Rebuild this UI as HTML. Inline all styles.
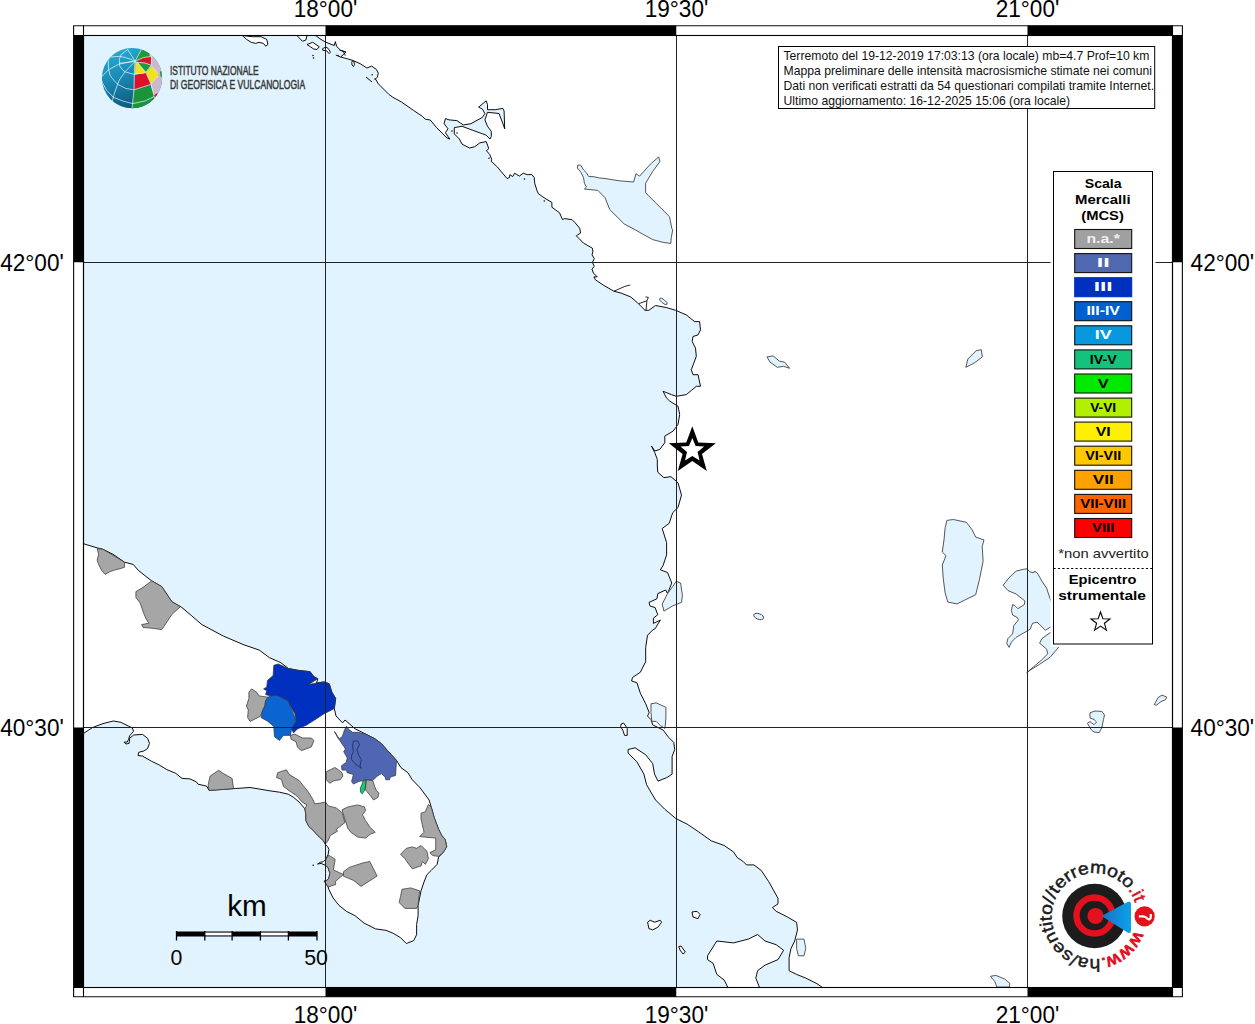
<!DOCTYPE html>
<html><head><meta charset="utf-8"><style>
html,body{margin:0;padding:0;background:#fff;width:1255px;height:1024px;overflow:hidden}
svg{display:block}
text{font-family:"Liberation Sans",sans-serif}
</style></head><body>
<svg width="1255" height="1024" viewBox="0 0 1255 1024">
<defs>
<clipPath id="mapclip"><rect x="83.5" y="35.5" width="1089" height="952"/></clipPath>
<clipPath id="titleclip"><rect x="779" y="47" width="375.7" height="61"/></clipPath>
<linearGradient id="gblue" x1="0.2" y1="0.05" x2="0.55" y2="1"><stop offset="0" stop-color="#27aacf"/><stop offset="0.45" stop-color="#1a88b4"/><stop offset="1" stop-color="#0a5578"/></linearGradient>
<linearGradient id="gtri" x1="0" y1="0" x2="1" y2="0"><stop offset="0" stop-color="#1b6fc4"/><stop offset="1" stop-color="#0aa2ea"/></linearGradient>
<clipPath id="globeclip"><circle cx="132" cy="78.1" r="30.1"/></clipPath>
</defs>
<rect x="0" y="0" width="1255" height="1024" fill="#fff"/>
<g clip-path="url(#mapclip)">
<rect x="83" y="35" width="1090" height="953" fill="#e0f3ff"/>

<path d="M315.9,35.6 L320.0,38.8 L325.7,42.2 L334.3,45.5 L335.3,41.7 L336.7,46.5 L340.6,50.3 L345.8,52.2 L343.9,54.1 L340.6,57.0 L347.7,58.9 L352.5,60.3 L360.2,63.7 L366.9,68.0 L371.6,66.1 L376.4,69.4 L378.3,73.2 L377.4,77.1 L375.5,79.0 L378.3,83.8 L388.8,94.3 L392.7,97.2 L401.3,101.9 L413.7,110.5 L422.3,116.3 L425.2,119.1 L430.4,120.1 L436.5,127.6 L442.9,133.9 L446.7,137.8 L449.9,139.0 L448.0,136.5 L445.4,132.7 L448.0,128.8 L444.1,123.7 L445.4,118.6 L449.2,119.9 L456.9,120.6 L463.3,125.0 L470.9,123.7 L482.4,117.4 L484.9,113.5 L482.4,109.1 L478.6,107.2 L486.2,100.8 L487.5,104.6 L487.5,109.7 L495.1,109.7 L502.8,108.4 L504.1,111.0 L504.7,128.8 L503.4,125.0 L499.0,113.5 L487.5,112.3 L484.9,119.9 L487.5,126.3 L491.3,131.4 L491.3,136.5 L490.0,139.0 L486.2,135.2 L481.1,133.3 L472.2,130.1 L462.0,126.3 L454.3,127.6 L454.3,133.9 L459.4,139.0 L462.0,144.1 L469.6,148.0 L474.7,146.7 L479.8,142.9 L486.2,141.6 L487.5,145.0 L488.8,148.8 L486.4,150.7 L489.8,154.6 L491.7,159.3 L491.2,161.3 L497.4,167.0 L507.0,178.5 L509.4,177.5 L509.9,174.6 L512.7,176.6 L514.6,173.2 L519.4,176.1 L523.2,173.2 L527.1,174.6 L531.9,174.6 L534.2,177.5 L534.7,183.2 L537.1,190.9 L538.5,193.8 L545.2,198.5 L551.9,202.4 L551.9,207.2 L559.6,212.9 L562.5,219.6 L564.4,218.6 L572.0,219.6 L574.9,222.5 L579.7,228.2 L580.6,233.0 L576.3,235.8 L583.4,243.0 L592.4,248.2 L592.9,252.0 L592.0,254.9 L594.3,258.7 L592.4,262.5 L594.3,266.3 L592.0,269.2 L593.4,273.0 L597.2,276.9 L593.9,276.9 L595.3,279.7 L603.9,285.5 L613.9,291.2 L621.1,293.1 L630.7,296.9 L637.4,302.7 L641.2,306.5 L645.0,310.3 L648.8,310.3 L655.5,305.5 L666.1,307.5 L675.6,310.3 L686.3,314.9 L694.6,321.6 L699.6,321.6 L700.5,329.9 L698.0,334.9 L693.0,336.5 L692.2,341.5 L695.5,348.1 L696.3,356.4 L693.8,363.1 L691.3,369.7 L693.0,374.7 L698.0,374.7 L700.5,386.3 L696.3,386.3 L691.3,390.5 L686.3,394.6 L676.4,396.3 L671.4,394.6 L663.1,391.3 L666.4,397.9 L669.8,401.2 L678.0,406.2 L679.7,414.5 L678.0,424.5 L673.1,431.1 L664.8,436.1 L664.8,442.7 L659.8,449.4 L654.8,451.0 L651.5,446.1 L654.8,452.7 L657.3,459.3 L657.3,466.0 L657.8,472.3 L663.9,477.6 L671.0,476.7 L678.0,482.8 L681.5,495.1 L678.0,507.5 L672.7,512.7 L669.2,523.3 L662.2,528.5 L666.6,542.6 L666.6,554.9 L663.1,565.4 L660.4,569.8 L667.5,572.5 L671.8,583.0 L667.5,593.6 L665.7,590.0 L657.8,593.6 L656.9,598.8 L649.0,602.4 L649.9,605.9 L655.1,607.6 L657.8,614.7 L653.4,618.2 L653.4,623.4 L660.4,620.0 L655.1,628.7 L652.7,630.0 L647.5,635.3 L645.7,647.6 L645.7,661.6 L640.4,672.2 L632.5,677.5 L631.6,681.0 L636.9,682.7 L640.4,693.3 L645.7,703.8 L649.2,712.6 L647.5,716.1 L651.0,719.6 L652.7,724.9 L658.0,727.5 L663.3,730.2 L668.5,737.2 L673.8,742.5 L674.7,749.5 L672.1,756.5 L672.1,774.1 L666.8,777.6 L658.0,781.1 L654.5,774.1 L652.7,763.6 L645.7,754.8 L635.1,747.8 L628.1,749.5 L628.1,753.0 L636.9,761.8 L643.9,774.1 L646.6,784.7 L652.7,795.2 L655.6,800.0 L664.8,809.3 L676.0,818.6 L687.1,824.1 L698.2,831.5 L711.2,840.8 L724.2,845.5 L733.5,851.9 L737.2,857.5 L742.8,861.2 L746.5,864.9 L753.9,864.9 L761.3,870.5 L768.7,881.6 L778.0,898.3 L778.0,903.9 L772.4,907.6 L776.2,911.3 L787.3,916.9 L796.6,922.4 L797.5,929.9 L794.7,941.0 L791.0,948.4 L789.1,957.7 L789.1,970.7 L796.6,974.4 L805.8,978.1 L817.0,983.7 L822.5,987.5 L1173.0,987.5 L1173.0,35.0 L315.9,35.0Z" fill="#fff" stroke="#000" stroke-width="0.95" stroke-linejoin="round"/>
<path d="M83.0,543.6 L97.2,547.9 L103.0,549.3 L113.0,554.3 L124.5,562.2 L133.1,564.4 L138.8,570.8 L151.7,580.9 L161.8,586.6 L171.8,601.7 L181.8,607.4 L191.9,616.0 L201.9,624.6 L223.4,636.1 L244.1,644.9 L259.1,650.0 L269.3,657.6 L278.2,661.5 L280.8,662.7 L288.4,668.5 L298.6,670.4 L310.1,671.7 L313.9,676.8 L317.8,678.7 L316.5,683.1 L324.1,681.9 L329.2,683.8 L331.8,692.1 L335.6,698.4 L334.3,708.6 L336.0,716.0 L342.6,722.9 L345.0,720.0 L355.1,728.8 L365.7,734.1 L374.5,738.5 L381.5,743.7 L387.7,750.8 L396.5,760.4 L400.8,767.5 L407.9,772.7 L412.3,779.8 L420.0,787.7 L429.1,800.0 L431.3,807.3 L434.2,817.6 L438.6,829.3 L441.5,835.1 L445.2,839.5 L446.7,846.9 L443.0,852.7 L438.6,857.1 L437.1,864.4 L431.3,870.3 L426.9,874.7 L424.0,882.0 L421.0,890.8 L418.1,905.4 L418.1,915.7 L416.6,924.5 L416.6,934.7 L413.7,940.6 L406.4,943.5 L400.5,937.6 L393.2,933.3 L385.9,930.3 L375.6,928.9 L363.9,923.0 L355.1,915.7 L346.4,911.3 L339.0,905.4 L333.2,898.1 L328.8,889.3 L328.1,886.9 L325.8,883.3 L324.0,881.0 L325.8,881.0 L328.7,878.7 L329.9,873.4 L328.1,867.5 L325.2,865.2 L321.1,863.4 L317.6,864.0 L320.5,862.2 L323.4,861.7 L325.8,859.3 L328.1,854.6 L329.0,849.3 L327.5,846.4 L325.2,844.1 L323.4,840.6 L317.6,835.3 L312.9,830.0 L308.8,826.4 L305.9,820.5 L305.9,814.7 L304.9,808.8 L299.1,802.0 L293.2,797.1 L288.3,794.2 L279.5,792.2 L269.8,790.8 L250.0,787.5 L235.4,788.5 L223.5,789.4 L209.1,790.4 L206.7,786.1 L198.1,784.2 L196.2,781.8 L190.0,778.9 L182.0,778.4 L175.7,773.3 L166.7,769.5 L159.1,764.9 L151.4,761.2 L142.5,756.1 L138.0,755.5 L138.7,752.3 L143.8,751.0 L147.6,748.5 L149.5,743.4 L147.6,738.3 L142.5,734.4 L133.6,735.0 L129.7,738.3 L129.1,743.4 L125.9,744.0 L124.0,742.1 L127.2,742.1 L128.5,739.5 L129.7,735.7 L133.6,731.3 L132.3,728.0 L128.5,726.1 L120.8,722.3 L113.2,721.0 L103.0,723.6 L92.8,727.4 L83.8,733.2 L83.0,734.0Z" fill="#fff" stroke="#000" stroke-width="0.95" stroke-linejoin="round"/>
<path d="M242.3,35.5 L252.3,36.7 L261.2,36.7 L266.8,39.5 L267.9,44.5 L265.7,46.2 L263.5,43.4 L259.0,42.3 L255.7,43.4 L251.2,42.3 L246.7,39.5Z" fill="#fff" stroke="#000" stroke-width="0.95" stroke-linejoin="round"/>
<path d="M296.9,35.5 L307.0,35.5 L305.9,40.0 L302.5,41.2Z" fill="#fff" stroke="#000" stroke-width="0.95" stroke-linejoin="round"/>
<path d="M307.0,44.5 L312.6,42.3 L319.2,46.7 L317.0,49.5 L313.7,49.0 L310.3,46.7Z" fill="#fff" stroke="#000" stroke-width="0.95" stroke-linejoin="round"/>
<path d="M322.4,48.9 L325.7,47.0 L328.1,48.4 L330.5,52.2 L329.1,53.6 L326.7,50.8 L322.9,50.3Z" fill="#fff" stroke="#000" stroke-width="0.95" stroke-linejoin="round"/>
<path d="M352.2,61.0 L353.8,61.2 L354.5,64.5 L353.5,66.4 L352.0,65.0 L351.8,62.5Z" fill="#fff" stroke="#000" stroke-width="0.95" stroke-linejoin="round"/>
<path d="M647.6,922.2 L650.2,920.3 L654.6,922.2 L660.3,920.3 L661.6,922.2 L657.8,927.3 L652.7,929.8 L648.9,928.6Z" fill="#fff" stroke="#000" stroke-width="0.95" stroke-linejoin="round"/>
<path d="M621.1,724.0 L623.7,723.1 L627.2,728.4 L627.2,735.4 L624.6,735.4 L622.8,730.2 L620.7,726.7Z" fill="#fff" stroke="#000" stroke-width="0.95" stroke-linejoin="round"/>
<path d="M692.0,912.0 L697.0,911.3 L700.1,914.5 L698.0,918.7 L693.0,917.0Z" fill="#fff" stroke="#000" stroke-width="0.95" stroke-linejoin="round"/>
<path d="M678.8,946.6 L681.0,946.0 L685.3,952.0 L683.0,954.0 L680.0,950.0Z" fill="#fff" stroke="#000" stroke-width="0.95" stroke-linejoin="round"/>
<path d="M707.5,955.8 L716.8,941.0 L733.5,942.9 L748.3,939.1 L757.6,934.5 L765.0,941.0 L776.2,944.7 L783.6,950.3 L778.0,959.6 L765.0,965.1 L757.6,970.7 L755.8,978.1 L759.5,987.5 L727.9,987.5 L724.2,980.0 L716.8,974.4 L713.1,963.3 L707.5,959.6Z" fill="#fff" stroke="#000" stroke-width="0.95" stroke-linejoin="round"/>
<path d="M577.8,165.1 L580.6,165.1 L583.5,169.9 L586.4,172.7 L588.7,176.6 L593.0,176.6 L599.7,178.0 L605.0,178.5 L619.3,180.8 L633.6,182.0 L636.0,173.7 L639.6,176.1 L650.4,164.1 L658.7,156.9 L659.9,161.7 L652.8,171.3 L645.6,183.2 L645.6,192.8 L655.2,202.4 L662.3,209.5 L669.5,216.7 L671.9,228.7 L672.7,230.0 L671.3,237.6 L670.8,243.4 L663.2,242.4 L652.7,239.6 L642.2,233.8 L635.5,230.0 L624.1,223.9 L609.7,209.5 L605.0,197.6 L597.8,190.4 L584.4,189.0 L586.4,187.1 L584.4,183.2 L583.5,177.5 L580.6,171.8 L577.3,168.0Z" fill="#e0f3ff" stroke="#444" stroke-width="0.9" stroke-linejoin="round"/>
<path d="M946.9,520.4 L953.4,519.5 L966.4,522.3 L972.0,529.7 L975.7,537.1 L984.0,539.9 L982.2,546.4 L983.1,561.3 L979.4,579.8 L975.7,594.7 L964.5,600.2 L957.1,603.9 L947.8,602.1 L945.1,592.8 L943.2,578.0 L942.3,565.0 L946.0,555.7 L942.3,552.0 L944.1,539.0 L945.1,527.8Z" fill="#e0f3ff" stroke="#444" stroke-width="0.9" stroke-linejoin="round"/>
<path d="M1003.2,585.2 L1009.1,577.6 L1016.1,571.1 L1023.1,569.4 L1027.2,568.8 L1029.6,571.7 L1033.7,572.9 L1034.3,571.1 L1037.2,572.9 L1041.9,581.1 L1046.6,588.1 L1050.1,598.7 L1053.0,605.0 L1053.0,626.0 L1050.7,626.8 L1045.4,630.3 L1041.9,626.8 L1037.2,622.1 L1032.5,623.3 L1030.2,629.2 L1023.1,633.3 L1016.1,637.4 L1011.4,642.1 L1009.1,647.4 L1006.7,643.2 L1007.9,638.6 L1012.6,633.9 L1013.8,625.7 L1018.4,619.8 L1017.3,617.5 L1012.6,615.1 L1011.4,610.4 L1012.6,604.6 L1014.9,605.7 L1017.9,608.7 L1024.3,604.6 L1024.9,601.0 L1016.1,594.0 L1007.9,590.5Z" fill="#e0f3ff" stroke="#444" stroke-width="0.9" stroke-linejoin="round"/>
<path d="M1050.1,632.7 L1041.9,638.6 L1039.6,643.2 L1046.6,649.1 L1047.8,653.8 L1041.9,659.7 L1033.7,666.7 L1026.7,672.6 L1030.2,670.2 L1039.6,664.3 L1050.1,657.3 L1056.0,650.3 L1058.9,646.8 L1055.0,642.0 L1053.0,632.0Z" fill="#e0f3ff" stroke="#444" stroke-width="0.9" stroke-linejoin="round"/>
<path d="M651.0,703.8 L656.2,702.9 L665.9,707.3 L665.9,717.9 L665.0,728.4 L660.6,725.8 L656.2,721.4 L651.8,721.4 L651.0,712.6Z" fill="#e0f3ff" stroke="#444" stroke-width="0.9" stroke-linejoin="round"/>
<path d="M676.2,581.3 L680.6,583.0 L682.4,595.3 L681.5,602.4 L672.7,605.9 L663.9,611.1 L662.2,604.1 L667.5,593.6 L672.7,586.5Z" fill="#e0f3ff" stroke="#444" stroke-width="0.9" stroke-linejoin="round"/>
<path d="M796.6,939.1 L804.0,939.1 L805.8,948.4 L804.0,955.8 L798.4,955.8 L796.6,948.4Z" fill="#e0f3ff" stroke="#444" stroke-width="0.9" stroke-linejoin="round"/>
<path d="M766.9,356.9 L773.1,355.9 L779.4,361.1 L784.5,362.1 L789.7,368.3 L783.5,366.3 L777.3,367.3 L770.0,362.1Z" fill="#e0f3ff" stroke="#444" stroke-width="0.9" stroke-linejoin="round"/>
<path d="M965.8,367.3 L967.9,359.0 L976.2,350.7 L981.3,349.7 L982.4,356.9 L974.1,363.1Z" fill="#e0f3ff" stroke="#444" stroke-width="0.9" stroke-linejoin="round"/>
<path d="M1090.0,712.8 L1095.0,711.0 L1101.9,711.4 L1104.5,715.0 L1103.5,719.4 L1101.9,727.3 L1099.3,732.6 L1094.0,732.0 L1091.3,729.9 L1087.4,723.3 L1090.0,721.5 L1094.0,724.7 L1096.6,722.0 L1094.0,719.5 L1090.0,718.0Z" fill="#e0f3ff" stroke="#444" stroke-width="0.9" stroke-linejoin="round"/>
<path d="M1154.2,704.7 L1158.3,697.4 L1162.0,695.1 L1166.6,697.0 L1165.7,699.7 L1161.1,701.5 L1156.5,705.2Z" fill="#e0f3ff" stroke="#444" stroke-width="0.9" stroke-linejoin="round"/>
<path d="M990.5,976.3 L995.8,975.4 L1004.5,978.9 L1009.8,983.3 L1009.5,987.0 L996.7,987.0 L994.9,981.6Z" fill="#e0f3ff" stroke="#444" stroke-width="0.9" stroke-linejoin="round"/>
<circle cx="524.5" cy="179" r="0.8" fill="#111"/>
<circle cx="544.3" cy="201" r="0.8" fill="#111"/>
<circle cx="489" cy="158.3" r="0.8" fill="#111"/>
<circle cx="313" cy="55.5" r="0.8" fill="#111"/>
<circle cx="313.5" cy="58" r="0.8" fill="#111"/>
<circle cx="452" cy="131" r="0.8" fill="#111"/>
<circle cx="457" cy="133" r="0.8" fill="#111"/>
<circle cx="372.1" cy="74.7" r="0.8" fill="#111"/>
<circle cx="375" cy="79" r="0.8" fill="#111"/>
<circle cx="338" cy="55.5" r="0.8" fill="#111"/>
<circle cx="313.2" cy="865.2" r="0.8" fill="#111"/>
<path d="M366,77 L372,82 M339.5,50 L346,52 M343,50.8 L345.3,55.6 M335.8,55 L340.6,57" fill="none" stroke="#111" stroke-width="1"/>
<path d="M613.9,291.2 L624.9,286.4 L630.2,285" fill="none" stroke="#111" stroke-width="0.9"/>
<path d="M638.8,303.6 L646.9,300.8 L646,310.3 M646.9,300.8 L648.4,297.4 L645.5,296.9" fill="none" stroke="#111" stroke-width="0.9"/>
<ellipse cx="663.4" cy="301.4" rx="4.6" ry="1.7" transform="rotate(38 663.4 301.4)" fill="#e0f3ff" stroke="#444" stroke-width="0.9" stroke-linejoin="round"/>
<ellipse cx="758.7" cy="616.5" rx="5.2" ry="2.8" transform="rotate(20 758.7 616.5)" fill="#e0f3ff" stroke="#444" stroke-width="0.9" stroke-linejoin="round"/>
<path d="M97.2,548.6 L103.0,549.3 L124.5,562.2 L124.5,567.3 L120.2,568.7 L114.4,570.1 L110.1,571.6 L105.1,574.4 L101.5,570.1 L98.6,564.4 L97.2,560.1 L98.6,554.3Z" fill="#a6a6a6" stroke="#383838" stroke-width="0.75" stroke-linejoin="round"/>
<path d="M151.7,580.9 L161.8,586.6 L171.8,601.7 L180.4,606.7 L171.8,614.6 L166.1,623.2 L161.8,629.6 L151.7,628.2 L143.1,627.5 L141.7,624.6 L148.8,623.2 L146.0,618.9 L143.1,611.7 L140.2,603.1 L135.9,597.4 L135.9,591.6 L143.1,587.3Z" fill="#a6a6a6" stroke="#383838" stroke-width="0.75" stroke-linejoin="round"/>
<path d="M210.1,776.0 L218.7,770.3 L223.5,773.6 L232.1,778.4 L233.5,788.5 L223.5,789.4 L209.1,790.4 L208.2,784.6Z" fill="#a6a6a6" stroke="#383838" stroke-width="0.75" stroke-linejoin="round"/>
<path d="M251.5,688.9 L256.6,692.1 L259.1,695.9 L268.0,697.2 L265.5,701.0 L264.9,706.1 L262.9,709.9 L260.4,716.3 L250.2,721.4 L247.6,717.6 L248.3,709.9 L246.4,706.1 L248.9,698.4 L248.9,692.1Z" fill="#a6a6a6" stroke="#383838" stroke-width="0.75" stroke-linejoin="round"/>
<path d="M290.4,735.4 L294.8,734.1 L302.5,738.0 L311.4,738.0 L313.9,740.5 L311.4,746.9 L301.2,750.7 L297.4,746.9 L296.1,741.8 L291.0,739.2Z" fill="#a6a6a6" stroke="#383838" stroke-width="0.75" stroke-linejoin="round"/>
<path d="M270.6,695.9 L277.0,694.6 L283.3,698.4 L288.4,701.0 L289.7,704.8 L293.5,713.7 L296.1,721.4 L291.6,729.0 L290.4,735.4 L283.3,735.4 L279.5,740.5 L274.4,736.7 L273.8,726.5 L268.0,721.4 L261.0,717.6 L262.9,709.9 L264.9,706.1 L265.5,701.0 L268.0,697.2Z" fill="#0a64d2" stroke="#383838" stroke-width="0.75" stroke-linejoin="round"/>
<path d="M273.8,665.3 L278.2,664.0 L288.4,668.5 L298.6,670.4 L310.1,671.7 L313.9,676.8 L317.8,678.7 L308.8,684.4 L316.5,683.1 L324.1,681.9 L329.2,683.8 L331.8,692.1 L335.6,698.4 L334.3,708.6 L329.2,711.2 L324.1,713.7 L316.5,718.8 L306.3,725.2 L297.4,729.0 L293.5,732.9 L291.6,729.0 L296.1,721.4 L294.8,713.7 L289.7,704.8 L288.4,701.0 L283.3,698.4 L277.0,695.3 L270.6,695.9 L265.5,694.6 L266.8,690.8 L263.6,688.9 L266.8,687.0 L267.4,680.6 L273.1,675.5Z" fill="#0030c0" stroke="#383838" stroke-width="0.75" stroke-linejoin="round"/>
<path d="M334.5,731.4 L339.3,738.9 L342.4,736.3 L344.6,729.7 L346.4,726.2 L349.0,729.7 L352.5,732.3 L357.8,732.3 L365.7,734.1 L374.5,738.5 L381.5,743.7 L387.7,750.8 L396.5,760.4 L396.0,768.3 L395.6,775.4 L390.3,777.1 L389.4,779.8 L385.9,779.8 L385.0,777.1 L381.5,773.6 L377.1,776.2 L372.7,780.6 L366.6,779.8 L363.1,780.6 L358.7,781.5 L353.4,784.1 L351.6,781.5 L353.4,774.5 L347.2,772.7 L346.4,770.1 L342.0,770.1 L341.5,765.7 L346.4,762.2 L347.2,757.8 L343.7,751.6 L345.5,749.0 L340.2,741.1 L337.6,737.6Z" fill="#4f67b3" stroke="#383838" stroke-width="0.75" stroke-linejoin="round"/>
<path d="M363.1,780.6 L365.7,779.8 L365.7,785.0 L364.8,790.3 L362.2,793.8 L360.4,792.1 L360.4,787.7 L362.2,784.1Z" fill="#10cc74" stroke="#383838" stroke-width="0.75" stroke-linejoin="round"/>
<path d="M366.6,779.8 L372.7,780.6 L374.5,785.9 L376.2,790.3 L378.9,792.9 L378.0,797.3 L373.6,800.0 L371.0,796.5 L367.5,792.1 L365.7,790.3 L365.7,785.0Z" fill="#a6a6a6" stroke="#383838" stroke-width="0.75" stroke-linejoin="round"/>
<path d="M326.2,771.8 L334.9,767.5 L337.6,769.2 L342.0,772.7 L342.8,776.2 L340.2,779.8 L334.1,780.6 L329.7,783.3 L326.2,779.8Z" fill="#a6a6a6" stroke="#383838" stroke-width="0.75" stroke-linejoin="round"/>
<path d="M277.6,772.7 L286.4,769.8 L289.3,774.6 L299.1,780.5 L303.0,785.4 L307.9,791.3 L312.7,799.1 L314.7,803.9 L320.5,803.0 L325.4,802.0 L328.4,805.9 L336.2,807.9 L342.0,812.7 L345.0,822.5 L340.1,826.4 L336.2,829.3 L337.5,831.2 L330.5,835.3 L327.5,841.7 L325.2,844.1 L323.4,840.6 L317.6,835.3 L312.9,830.0 L308.8,826.4 L305.9,820.5 L305.9,814.7 L304.9,808.8 L306.9,804.9 L302.0,802.0 L297.1,796.1 L291.3,792.2 L283.4,786.4 L281.5,779.5 L276.6,777.6Z" fill="#a6a6a6" stroke="#383838" stroke-width="0.75" stroke-linejoin="round"/>
<path d="M342.0,809.8 L347.9,806.9 L357.7,804.9 L364.5,806.9 L365.5,810.8 L362.5,814.7 L365.5,820.5 L370.3,827.4 L375.2,832.3 L370.3,834.2 L365.5,838.1 L357.7,837.1 L350.8,832.3 L347.9,828.4 L345.9,822.5Z" fill="#a6a6a6" stroke="#383838" stroke-width="0.75" stroke-linejoin="round"/>
<path d="M428.4,804.4 L431.3,807.3 L434.2,817.6 L438.6,829.3 L441.5,835.1 L445.2,839.5 L446.7,846.9 L443.0,852.7 L438.6,856.4 L432.8,855.6 L429.8,852.7 L435.7,849.8 L435.7,838.1 L419.6,836.6 L424.0,832.2 L421.0,819.0 L421.0,813.2 L425.4,811.7Z" fill="#a6a6a6" stroke="#383838" stroke-width="0.75" stroke-linejoin="round"/>
<path d="M400.5,854.2 L406.4,848.3 L412.3,846.9 L416.6,848.3 L421.0,845.4 L426.9,851.3 L428.4,858.6 L425.4,864.4 L422.5,861.5 L421.0,865.9 L412.3,868.8 L407.9,863.0 L404.9,858.6Z" fill="#a6a6a6" stroke="#383838" stroke-width="0.75" stroke-linejoin="round"/>
<path d="M343.4,871.8 L349.3,867.4 L362.5,863.0 L369.8,861.5 L377.1,876.1 L361.0,886.4 L353.7,880.5 L343.4,876.1Z" fill="#a6a6a6" stroke="#383838" stroke-width="0.75" stroke-linejoin="round"/>
<path d="M325.8,859.3 L328.7,855.2 L335.2,859.3 L334.6,862.8 L333.4,869.9 L343.4,874.5 L335.2,881.6 L335.8,884.5 L328.1,886.9 L325.8,883.3 L324.0,881.0 L325.8,881.0 L328.7,878.7 L329.9,873.4 L328.1,867.5 L325.2,865.2Z" fill="#a6a6a6" stroke="#383838" stroke-width="0.75" stroke-linejoin="round"/>
<path d="M402.0,889.3 L410.8,887.9 L419.6,890.8 L418.1,905.4 L416.6,908.4 L404.9,908.4 L399.1,902.5 L400.5,896.6Z" fill="#a6a6a6" stroke="#383838" stroke-width="0.75" stroke-linejoin="round"/>
<path d="M353.4,741.1 L357.8,741.1 L359.5,744.6 L356.9,749.9 L358.7,755.1 L361.3,759.5 L360.0,765.7 L361.3,768.3 L355.1,763.9 L351.6,759.5 L351.6,755.1 L353.4,751.6 L352.5,746.4 L353.4,741.1" fill="none" stroke="#1a2a60" stroke-width="0.8"/>
<line x1="325.5" y1="35" x2="325.5" y2="988" stroke="#222" stroke-width="1"/>
<line x1="676.5" y1="35" x2="676.5" y2="988" stroke="#222" stroke-width="1"/>
<line x1="1027.5" y1="35" x2="1027.5" y2="988" stroke="#222" stroke-width="1"/>
<line x1="83" y1="262.5" x2="1173" y2="262.5" stroke="#222" stroke-width="1"/>
<line x1="83" y1="727.5" x2="1173" y2="727.5" stroke="#222" stroke-width="1"/>
</g>
<rect x="83.5" y="25.5" width="242.0" height="10.0" fill="#fff"/>
<rect x="325.5" y="25.5" width="351.0" height="10.0" fill="#000"/>
<rect x="676.5" y="25.5" width="351.0" height="10.0" fill="#fff"/>
<rect x="1027.5" y="25.5" width="145.0" height="10.0" fill="#000"/>
<rect x="83.5" y="987.5" width="242.0" height="9.5" fill="#fff"/>
<rect x="325.5" y="987.5" width="351.0" height="9.5" fill="#000"/>
<rect x="676.5" y="987.5" width="351.0" height="9.5" fill="#fff"/>
<rect x="1027.5" y="987.5" width="145.0" height="9.5" fill="#000"/>
<rect x="73.5" y="35.5" width="10.0" height="227.0" fill="#000"/>
<rect x="73.5" y="262.5" width="10.0" height="465.0" fill="#fff"/>
<rect x="73.5" y="727.5" width="10.0" height="260.0" fill="#000"/>
<rect x="1172.5" y="35.5" width="10.0" height="227.0" fill="#000"/>
<rect x="1172.5" y="262.5" width="10.0" height="465.0" fill="#fff"/>
<rect x="1172.5" y="727.5" width="10.0" height="260.0" fill="#000"/>
<rect x="73.6" y="25.7" width="1108.8" height="971.0" fill="none" stroke="#111" stroke-width="1.15" stroke-linejoin="round"/>
<rect x="83.5" y="35.5" width="1089" height="952" fill="none" stroke="#000" stroke-width="1.1"/>
<line x1="73.5" y1="35.5" x2="1182.5" y2="35.5" stroke="#000" stroke-width="1.1"/>
<line x1="73.5" y1="987.5" x2="1182.5" y2="987.5" stroke="#000" stroke-width="1.1"/>
<line x1="83.5" y1="25.5" x2="83.5" y2="997" stroke="#000" stroke-width="1.1"/>
<line x1="1172.5" y1="25.5" x2="1172.5" y2="997" stroke="#000" stroke-width="1.1"/>
<text x="293.7" y="16.9" font-size="23.5" fill="#000" textLength="63.6" lengthAdjust="spacingAndGlyphs">18°00'</text>
<text x="293.7" y="1023.4" font-size="23.5" fill="#000" textLength="63.6" lengthAdjust="spacingAndGlyphs">18°00'</text>
<text x="644.7" y="16.9" font-size="23.5" fill="#000" textLength="63.6" lengthAdjust="spacingAndGlyphs">19°30'</text>
<text x="644.7" y="1023.4" font-size="23.5" fill="#000" textLength="63.6" lengthAdjust="spacingAndGlyphs">19°30'</text>
<text x="995.7" y="16.9" font-size="23.5" fill="#000" textLength="63.6" lengthAdjust="spacingAndGlyphs">21°00'</text>
<text x="995.7" y="1023.4" font-size="23.5" fill="#000" textLength="63.6" lengthAdjust="spacingAndGlyphs">21°00'</text>
<text x="0.19999999999999574" y="270.9" font-size="23.5" fill="#000" textLength="63.6" lengthAdjust="spacingAndGlyphs">42°00'</text>
<text x="1190.6" y="270.9" font-size="23.5" fill="#000" textLength="63.6" lengthAdjust="spacingAndGlyphs">42°00'</text>
<text x="0.19999999999999574" y="735.9" font-size="23.5" fill="#000" textLength="63.6" lengthAdjust="spacingAndGlyphs">40°30'</text>
<text x="1190.6" y="735.9" font-size="23.5" fill="#000" textLength="63.6" lengthAdjust="spacingAndGlyphs">40°30'</text>
<path d="M692.3,426.2 L698.3,442.6 L715.8,443.3 L702.0,454.1 L706.8,470.9 L692.3,461.1 L677.8,470.9 L682.6,454.1 L668.8,443.3 L686.3,442.6Z" fill="#000"/>
<path d="M692.3,438.0 L695.6,445.9 L704.1,446.6 L697.6,452.1 L699.6,460.4 L692.3,456.0 L685.0,460.4 L687.0,452.1 L680.5,446.6 L689.0,445.9Z" fill="#fff"/>
<rect x="778.5" y="46.5" width="376.2" height="62" fill="#fff"/>
<g clip-path="url(#titleclip)" font-size="12.2" fill="#111">
<text x="783.5" y="59.8">Terremoto del 19-12-2019 17:03:13 (ora locale) mb=4.7 Prof=10 km</text>
<text x="783.5" y="74.9">Mappa preliminare delle intensità macrosismiche stimate nei comuni</text>
<text x="783.5" y="89.9">Dati non verificati estratti da 54 questionari compilati tramite Internet.</text>
<text x="783.5" y="104.6">Ultimo aggiornamento: 16-12-2025 15:06 (ora locale)</text>
</g>
<rect x="778.5" y="46.5" width="376.2" height="62" fill="none" stroke="#000" stroke-width="1"/>
<rect x="1050.5" y="168.5" width="105" height="478.5" fill="#fff"/>
<rect x="1053.5" y="171.5" width="99" height="472.5" fill="#fff" stroke="#000" stroke-width="1"/>
<text x="1103.2" y="188.1" text-anchor="middle" font-size="12.2" font-weight="bold" fill="#000" textLength="37" lengthAdjust="spacingAndGlyphs">Scala</text>
<text x="1102.8" y="204.0" text-anchor="middle" font-size="12.2" font-weight="bold" fill="#000" textLength="55.5" lengthAdjust="spacingAndGlyphs">Mercalli</text>
<text x="1102.6" y="219.7" text-anchor="middle" font-size="12.2" font-weight="bold" fill="#000" textLength="42.5" lengthAdjust="spacingAndGlyphs">(MCS)</text>
<rect x="1074.7" y="229.5" width="57" height="19" fill="#a0a0a0" stroke="#111" stroke-width="1.1"/>
<text x="1103.2" y="243.1" text-anchor="middle" font-size="12.2" font-weight="bold" fill="#f0f0f0" textLength="33.5" lengthAdjust="spacingAndGlyphs">n.a.*</text>
<rect x="1074.7" y="253.6" width="57" height="19" fill="#5068b0" stroke="#111" stroke-width="1.1"/>
<text x="1103.2" y="267.18" text-anchor="middle" font-size="12.2" font-weight="bold" fill="#fff" textLength="13" lengthAdjust="spacingAndGlyphs">II</text>
<rect x="1074.7" y="277.7" width="57" height="19" fill="#0030c0" stroke="#0030c0" stroke-width="1.1"/>
<text x="1103.2" y="291.26" text-anchor="middle" font-size="12.2" font-weight="bold" fill="#fff" textLength="19" lengthAdjust="spacingAndGlyphs">III</text>
<rect x="1074.7" y="301.7" width="57" height="19" fill="#0060d0" stroke="#111" stroke-width="1.1"/>
<text x="1103.2" y="315.34000000000003" text-anchor="middle" font-size="12.2" font-weight="bold" fill="#fff" textLength="33.5" lengthAdjust="spacingAndGlyphs">III-IV</text>
<rect x="1074.7" y="325.8" width="57" height="19" fill="#0898e0" stroke="#111" stroke-width="1.1"/>
<text x="1103.2" y="339.42" text-anchor="middle" font-size="12.2" font-weight="bold" fill="#fff" textLength="17" lengthAdjust="spacingAndGlyphs">IV</text>
<rect x="1074.7" y="349.9" width="57" height="19" fill="#14c27c" stroke="#111" stroke-width="1.1"/>
<text x="1103.2" y="363.5" text-anchor="middle" font-size="12.2" font-weight="bold" fill="#000" textLength="27" lengthAdjust="spacingAndGlyphs">IV-V</text>
<rect x="1074.7" y="374.0" width="57" height="19" fill="#00ea00" stroke="#111" stroke-width="1.1"/>
<text x="1103.2" y="387.58000000000004" text-anchor="middle" font-size="12.2" font-weight="bold" fill="#000" textLength="11" lengthAdjust="spacingAndGlyphs">V</text>
<rect x="1074.7" y="398.1" width="57" height="19" fill="#b0f000" stroke="#111" stroke-width="1.1"/>
<text x="1103.2" y="411.66" text-anchor="middle" font-size="12.2" font-weight="bold" fill="#000" textLength="26" lengthAdjust="spacingAndGlyphs">V-VI</text>
<rect x="1074.7" y="422.1" width="57" height="19" fill="#fff000" stroke="#111" stroke-width="1.1"/>
<text x="1103.2" y="435.74" text-anchor="middle" font-size="12.2" font-weight="bold" fill="#000" textLength="15" lengthAdjust="spacingAndGlyphs">VI</text>
<rect x="1074.7" y="446.2" width="57" height="19" fill="#ffc800" stroke="#111" stroke-width="1.1"/>
<text x="1103.2" y="459.82" text-anchor="middle" font-size="12.2" font-weight="bold" fill="#000" textLength="36" lengthAdjust="spacingAndGlyphs">VI-VII</text>
<rect x="1074.7" y="470.3" width="57" height="19" fill="#ffa200" stroke="#111" stroke-width="1.1"/>
<text x="1103.2" y="483.9" text-anchor="middle" font-size="12.2" font-weight="bold" fill="#000" textLength="21" lengthAdjust="spacingAndGlyphs">VII</text>
<rect x="1074.7" y="494.4" width="57" height="19" fill="#ff6400" stroke="#111" stroke-width="1.1"/>
<text x="1103.2" y="507.98" text-anchor="middle" font-size="12.2" font-weight="bold" fill="#000" textLength="46" lengthAdjust="spacingAndGlyphs">VII-VIII</text>
<rect x="1074.7" y="518.5" width="57" height="19" fill="#ff0000" stroke="#111" stroke-width="1.1"/>
<text x="1103.2" y="532.0600000000001" text-anchor="middle" font-size="12.2" font-weight="bold" fill="#000" textLength="22.5" lengthAdjust="spacingAndGlyphs">VIII</text>
<text x="1103.5" y="558" text-anchor="middle" font-size="12.2" fill="#222" textLength="90.5" lengthAdjust="spacingAndGlyphs">*non avvertito</text>
<line x1="1053.5" y1="568.5" x2="1152.5" y2="568.5" stroke="#000" stroke-width="1" stroke-dasharray="2.2,2.2"/>
<text x="1102.6" y="584.3" text-anchor="middle" font-size="12.2" font-weight="bold" fill="#000" textLength="67.5" lengthAdjust="spacingAndGlyphs">Epicentro</text>
<text x="1102.1" y="600.3" text-anchor="middle" font-size="12.2" font-weight="bold" fill="#000" textLength="87.8" lengthAdjust="spacingAndGlyphs">strumentale</text>
<path d="M1100.5,612.0 L1102.9,618.7 L1110.0,618.9 L1104.4,623.3 L1106.4,630.1 L1100.5,626.1 L1094.6,630.1 L1096.6,623.3 L1091.0,618.9 L1098.1,618.7Z" fill="#fff" stroke="#000" stroke-width="1.1"/>
<rect x="176.5" y="931.5" width="140.5" height="5" fill="#000"/>
<rect x="204.8" y="932.6" width="27.299999999999983" height="2.8" fill="#fff"/>
<rect x="260.4" y="932.6" width="28.0" height="2.8" fill="#fff"/>
<line x1="176.5" y1="931" x2="176.5" y2="940.5" stroke="#000" stroke-width="1.3"/>
<line x1="204.8" y1="931" x2="204.8" y2="940.5" stroke="#000" stroke-width="1.3"/>
<line x1="232.1" y1="931" x2="232.1" y2="940.5" stroke="#000" stroke-width="1.3"/>
<line x1="260.4" y1="931" x2="260.4" y2="940.5" stroke="#000" stroke-width="1.3"/>
<line x1="288.4" y1="931" x2="288.4" y2="940.5" stroke="#000" stroke-width="1.3"/>
<line x1="317.0" y1="931" x2="317.0" y2="940.5" stroke="#000" stroke-width="1.3"/>
<text x="227.3" y="916" font-size="28.8" fill="#000" textLength="39.5" lengthAdjust="spacingAndGlyphs">km</text>
<text x="176.5" y="964.5" text-anchor="middle" font-size="21.3" fill="#000">0</text>
<text x="316" y="964.5" text-anchor="middle" font-size="21.3" fill="#000">50</text>
<g>
<circle cx="132.0" cy="78.1" r="30.1" fill="url(#gblue)"/>
<g clip-path="url(#globeclip)">
<path d="M135.0,61.3 L141.3,49.6 L146.0,50.5 L149.5,53.6 L149.9,56.6 L143.3,57.6 L137.0,60.8Z" fill="#1e9a3c"/>
<path d="M149.3,53.4 L152.5,54.5 L151.8,56.5 L149.9,56.6Z" fill="#e8d820"/>
<path d="M136.5,61.5 L143.3,57.6 L149.9,56.6 L151.6,56.2 L151.4,65.3 L145.0,63.0 L137.3,62.3Z" fill="#e01028"/>
<path d="M151.6,55.5 L156.0,57.0 L163.0,66.0 L163.0,90.0 L156.0,97.0 L153.9,95.3 L150.3,84.6 L158.2,76.0 L158.6,74.2 L151.3,66.0Z" fill="#cdb9cf"/>
<path d="M137.3,62.3 L145.0,63.0 L151.3,65.3 L145.6,71.9Z" fill="#1e9a3c"/>
<path d="M135.4,62.4 L137.3,62.3 L145.6,72.2 L144.0,73.2 L135.0,74.6Z" fill="#f0e21e"/>
<path d="M151.3,66.0 L158.6,74.2 L158.2,76.0 L150.9,84.0 L147.3,76.0 L146.0,72.6Z" fill="#f0e21e"/>
<path d="M135.0,75.2 L144.0,73.2 L146.0,72.6 L147.3,76.0 L150.9,84.0 L150.3,84.6 L134.0,89.6Z" fill="#e01028"/>
<path d="M134.0,90.0 L150.3,85.3 L153.9,95.3 L154.2,98.0 L150.0,104.0 L140.0,110.0 L131.8,110.0 L132.0,108.0Z" fill="#1a9438"/>
<path d="M153.9,95.3 L157.9,92.8 L157.5,95.8 L154.5,97.5Z" fill="#e01028"/>
<path d="M159.9,71.2 L163.0,71.5 L163.0,77.5 L160.5,76.6Z" fill="#1e9a3c"/>
<path d="M127.6,49.3 L135.0,61.2" fill="none" stroke="#f4fbff" stroke-width="0.75" stroke-linejoin="round" opacity="0.9"/>
<path d="M141.3,49.8 L135.0,61.3" fill="none" stroke="#f4fbff" stroke-width="0.75" stroke-linejoin="round" opacity="0.9"/>
<path d="M135.0,61.3 L134.3,74.0 L134.0,89.8 L132.0,108.5" fill="none" stroke="#f4fbff" stroke-width="0.75" stroke-linejoin="round" opacity="0.9"/>
<path d="M127.6,49.7 L121.3,54.3 L119.3,59.3 L119.6,65.9 L122.6,69.9 L125.2,71.9 L133.2,74.2 L144.0,73.2 L146.0,72.0 L151.3,65.5 L151.5,57.0 L150.0,53.0" fill="none" stroke="#f4fbff" stroke-width="0.75" stroke-linejoin="round" opacity="0.9"/>
<path d="M106.0,57.5 L110.0,57.0 L119.9,56.3 L127.0,58.0 L132.6,60.0 L135.0,61.3 L143.3,57.6 L149.9,56.6 L153.0,55.5" fill="none" stroke="#f4fbff" stroke-width="0.75" stroke-linejoin="round" opacity="0.9"/>
<path d="M119.3,63.3 L133.2,61.6 L137.3,62.3 L145.0,63.0 L151.3,65.3" fill="none" stroke="#f4fbff" stroke-width="0.75" stroke-linejoin="round" opacity="0.9"/>
<path d="M101.0,77.5 L108.3,69.9 L118.6,64.3 L133.0,61.2" fill="none" stroke="#f4fbff" stroke-width="0.75" stroke-linejoin="round" opacity="0.9"/>
<path d="M135.0,61.5 L125.2,71.6 L119.3,80.0 L117.6,84.3 L114.0,94.6 L112.6,99.9 L110.5,108.0" fill="none" stroke="#f4fbff" stroke-width="0.75" stroke-linejoin="round" opacity="0.9"/>
<path d="M107.5,52.0 L108.3,61.6 L108.6,69.3 L110.0,75.0 L111.5,77.5 L117.6,84.3 L126.0,88.5 L134.0,89.8 L150.3,84.6" fill="none" stroke="#f4fbff" stroke-width="0.75" stroke-linejoin="round" opacity="0.9"/>
<path d="M101.5,81.0 L106.6,90.3 L113.3,97.3 L123.3,101.2 L132.6,103.6 L145.0,101.0 L154.0,96.6" fill="none" stroke="#f4fbff" stroke-width="0.75" stroke-linejoin="round" opacity="0.9"/>
<path d="M137.0,62.0 L145.6,72.0 L150.9,84.0 L153.9,95.3 L154.5,98.0" fill="none" stroke="#f4fbff" stroke-width="0.75" stroke-linejoin="round" opacity="0.9"/>
<path d="M151.5,66.0 L158.6,74.2" fill="none" stroke="#f4fbff" stroke-width="0.75" stroke-linejoin="round" opacity="0.9"/>
<path d="M158.4,75.8 L150.9,84.0" fill="none" stroke="#f4fbff" stroke-width="0.75" stroke-linejoin="round" opacity="0.9"/>
</g>
</g>
<g fill="#383838" stroke="#383838" stroke-width="0.5">
<text x="169.9" y="74.7" font-size="13.2" textLength="88.8" lengthAdjust="spacingAndGlyphs">ISTITUTO NAZIONALE</text>
<text x="169.9" y="89.2" font-size="13.2" textLength="135.3" lengthAdjust="spacingAndGlyphs">DI GEOFISICA E VULCANOLOGIA</text>
</g>
<g>
<circle cx="1094.5" cy="916.0" r="32.3" fill="#1c1c1c"/>
<circle cx="1094.5" cy="915.5" r="18.0" fill="none" stroke="#e3101e" stroke-width="6.4"/>
<circle cx="1095.5" cy="916" r="8.1" fill="#e3101e"/>
<path d="M1101.5,916.0 L1127.5,902.0 Q1131,900.3 1131,904 L1131,929.5 Q1131,934.5 1127.5,932.5 Z" fill="url(#gtri)"/>
<circle cx="1144.6" cy="916.4" r="10.1" fill="#e5101c"/>
<path d="M1138.8,916.4 L1143.2,916.4 Q1145.8,916.8 1147.3,918.6 Q1150.2,920.6 1150.8,917 L1150.8,914.0" fill="none" stroke="#fff" stroke-width="2.3"/>
<path id="arc" d="M 1134.72,930.64 A 42.8 42.8 0 1 1 1134.77,930.50" fill="none"/>
<text font-size="17.5" fill="#1a1a1a" stroke="#1a1a1a" stroke-width="0.45"><textPath href="#arc" startOffset="0" textLength="240" lengthAdjust="spacingAndGlyphs"><tspan fill="#e3101e" stroke="#e3101e" stroke-width="0.9">www.</tspan>ha/sentito//terremoto<tspan fill="#e3101e" stroke="#e3101e">.it</tspan></textPath></text>
</g>
</svg></body></html>
